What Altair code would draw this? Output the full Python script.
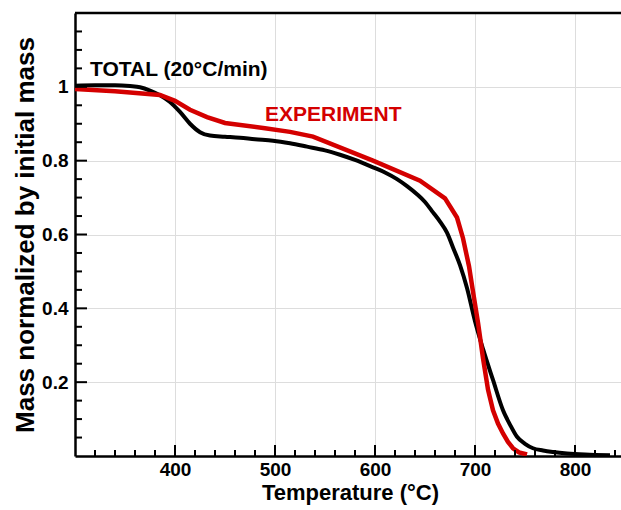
import altair as alt
import pandas as pd

# ---- data ----
total_temp = [300, 320, 340, 355, 365, 375, 385, 395, 405, 415, 425, 435, 450, 465,
              480, 498, 515, 532, 550, 565, 580, 598, 610, 622, 632, 642, 650, 658,
              665, 672, 678, 685, 692, 700, 708, 718, 728, 735, 742, 750, 758, 768,
              778, 792, 810, 835]
total_mass = [1.003, 1.004, 1.004, 1.002, 0.999, 0.990, 0.977, 0.959, 0.932, 0.900,
              0.877, 0.868, 0.865, 0.862, 0.858, 0.854, 0.847, 0.838, 0.828, 0.816,
              0.802, 0.782, 0.768, 0.750, 0.731, 0.709, 0.688, 0.660, 0.635, 0.605,
              0.565, 0.517, 0.455, 0.365, 0.290, 0.206, 0.124, 0.085, 0.052, 0.033,
              0.021, 0.015, 0.011, 0.007, 0.004, 0.002]

exp_temp = [300, 340, 385, 400, 415, 432, 450, 490, 515, 538, 598, 645, 670, 682,
            688, 694, 698, 703, 708, 713, 718, 723, 728, 733, 738, 744, 752]
exp_mass = [0.994, 0.988, 0.978, 0.962, 0.938, 0.918, 0.902, 0.888, 0.878, 0.865,
            0.800, 0.746, 0.698, 0.646, 0.590, 0.514, 0.445, 0.361, 0.265, 0.180,
            0.124, 0.088, 0.061, 0.038, 0.021, 0.010, 0.004]

series_names = ["TOTAL", "EXPERIMENT"]
series_colors = ["#000000", "#d40000"]

label_text = ["TOTAL (20°C/min)", "EXPERIMENT"]
label_temp = [315, 490]
label_mass = [1.030, 0.908]

x_major = [400, 500, 600, 700, 800]
x_minor = [320, 340, 360, 380, 420, 440, 460, 480, 520, 540, 560, 580, 620, 640,
           660, 680, 720, 740, 760, 780, 820, 840]
y_major = [0.2, 0.4, 0.6, 0.8, 1.0]
y_minor = [0.05, 0.1, 0.15, 0.25, 0.3, 0.35, 0.45, 0.5, 0.55, 0.65, 0.7, 0.75,
           0.85, 0.9, 0.95, 1.05, 1.1, 1.15]

# ---- chart ----
W, H = 546, 443
FONT = "Liberation Sans"

xs = alt.Scale(domain=[300, 846], nice=False, zero=False)
ys = alt.Scale(domain=[0, 1.2], nice=False, zero=False)
cs = alt.Scale(domain=series_names, range=series_colors)

x_axis = alt.Axis(values=x_major, ticks=False, title="Temperature (°C)",
                  labelFont=FONT, labelFontSize=19, labelFontWeight="bold",
                  labelColor="black", labelPadding=4,
                  domainColor="black", domainWidth=2.5,
                  grid=True, gridColor="#dddddd", gridWidth=1,
                  titleFont=FONT, titleFontSize=22, titleFontWeight="bold",
                  titleColor="black", titleX=275, titleY=43,
                  titleAlign="center", titleBaseline="alphabetic", titleAngle=0)
y_axis = alt.Axis(values=y_major, format=".1~f", ticks=False,
                  title="Mass normalized by initial mass",
                  labelFont=FONT, labelFontSize=19, labelFontWeight="bold",
                  labelColor="black", labelPadding=7,
                  domainColor="black", domainWidth=2.5,
                  grid=True, gridColor="#dddddd", gridWidth=1,
                  titleFont=FONT, titleFontSize=26, titleFontWeight="bold",
                  titleColor="black", titleX=-42, titleY=H / 2,
                  titleAlign="center", titleBaseline="alphabetic", titleAngle=270)

total_df = pd.DataFrame({"temp": total_temp, "mass": total_mass, "series": series_names[0]})
exp_df = pd.DataFrame({"temp": exp_temp, "mass": exp_mass, "series": series_names[1]})

total_line = alt.Chart(total_df).mark_line(strokeWidth=4, clip=True,
                                           interpolate="monotone").encode(
    x=alt.X("temp:Q", scale=xs, axis=x_axis),
    y=alt.Y("mass:Q", scale=ys, axis=y_axis),
    color=alt.Color("series:N", scale=cs, legend=None),
)
exp_line = alt.Chart(exp_df).mark_line(strokeWidth=4.5, clip=True).encode(
    x=alt.X("temp:Q", scale=xs, axis=x_axis),
    y=alt.Y("mass:Q", scale=ys, axis=y_axis),
    color=alt.Color("series:N", scale=cs, legend=None),
)

def xticks(vals, length):
    return alt.Chart(pd.DataFrame({"temp": vals})).mark_rule(color="black", strokeWidth=2).encode(
        x=alt.X("temp:Q", scale=xs, axis=x_axis),
        y=alt.value(H), y2=alt.value(H - length))

def yticks(vals, length):
    return alt.Chart(pd.DataFrame({"mass": vals})).mark_rule(color="black", strokeWidth=2).encode(
        y=alt.Y("mass:Q", scale=ys, axis=y_axis),
        x=alt.value(0), x2=alt.value(length))

top_border = alt.Chart(pd.DataFrame({"a": [0]})).mark_rule(color="black", strokeWidth=2.5).encode(
    x=alt.value(0), x2=alt.value(W), y=alt.value(0))

labels_df = pd.DataFrame({"text": label_text, "temp": label_temp, "mass": label_mass,
                          "series": series_names})
labels = alt.Chart(labels_df).mark_text(font=FONT, fontSize=21, fontWeight="bold",
                                        align="left", baseline="alphabetic").encode(
    x=alt.X("temp:Q", scale=xs, axis=x_axis),
    y=alt.Y("mass:Q", scale=ys, axis=y_axis),
    text="text:N",
    color=alt.Color("series:N", scale=cs, legend=None),
)

chart = alt.layer(
    total_line, exp_line,
    xticks(x_major, 11), xticks(x_minor, 6), yticks(y_major, 12), yticks(y_minor, 7),
    top_border, labels
).properties(
    width=W, height=H,
    autosize=alt.AutoSizeParams(type="none"),
    padding={"left": 75, "top": 13, "right": 0, "bottom": 54},
    background="white",
).configure_view(strokeWidth=0)

chart.save("out.html", embed_options={"renderer": "svg", "actions": False})
